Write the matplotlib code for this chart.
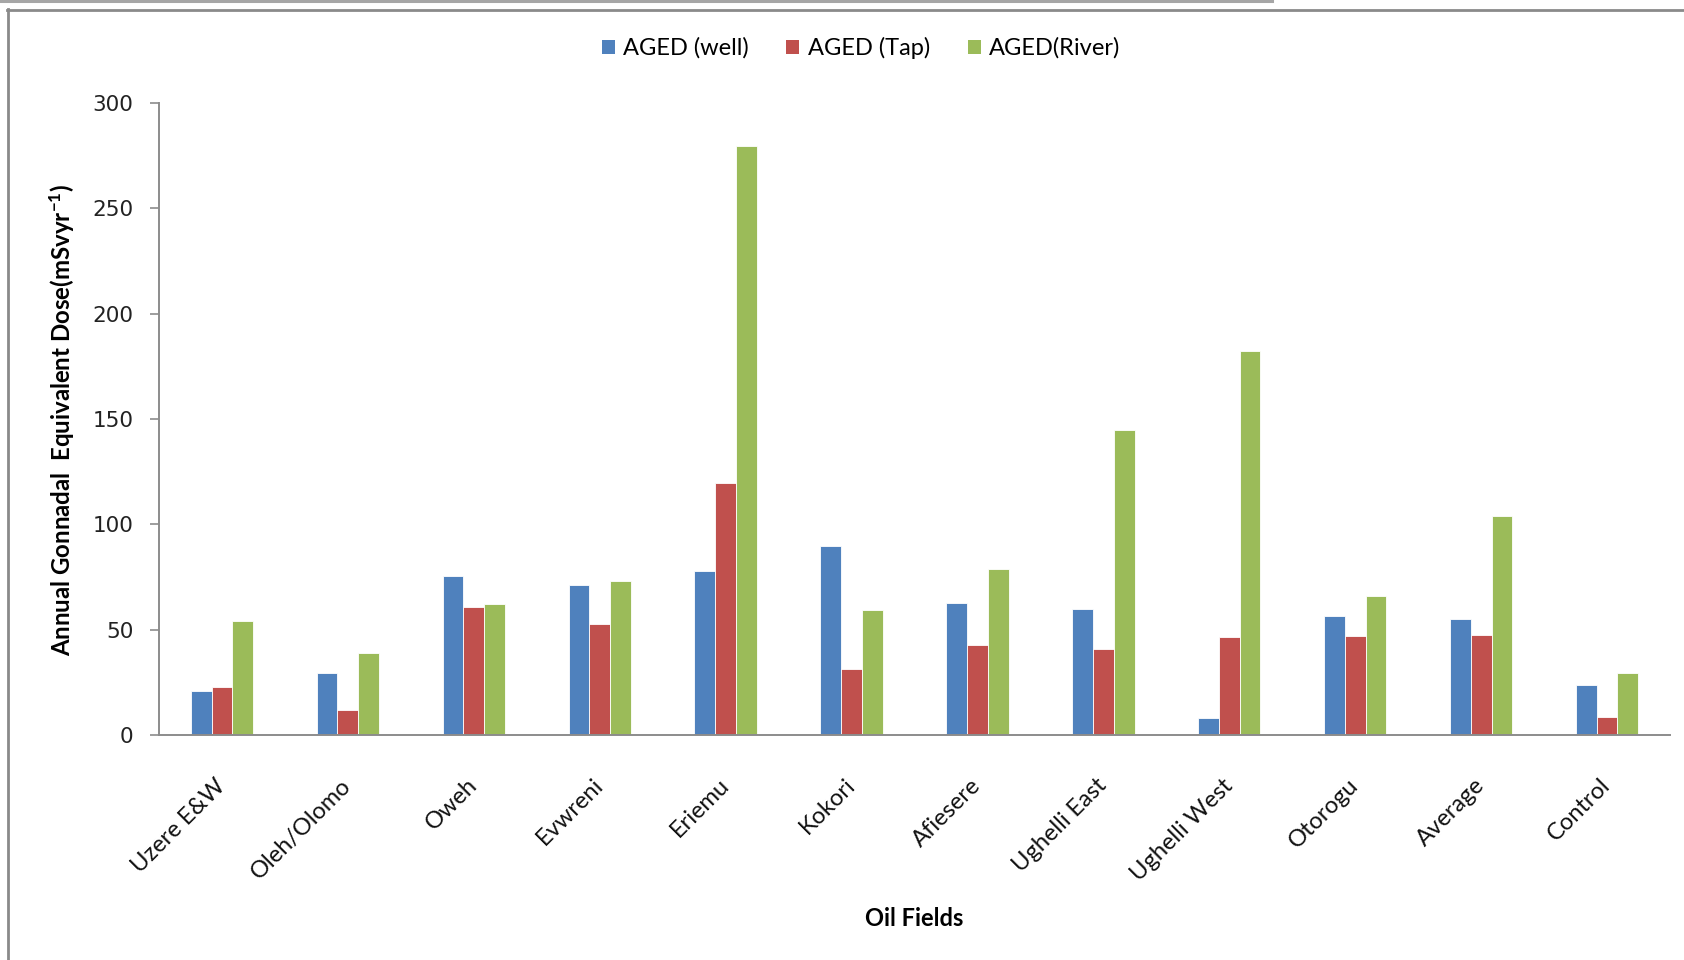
import matplotlib
matplotlib.use("Agg")
import matplotlib.pyplot as plt
from matplotlib.lines import Line2D
from matplotlib.patches import Patch
import numpy as np

categories = ["Uzere E&W", "Oleh/Olomo", "Oweh", "Evwreni", "Eriemu", "Kokori",
              "Afiesere", "Ughelli East", "Ughelli West", "Otorogu", "Average", "Control"]
aged_well = [20.9, 29.5, 75.7, 71.0, 77.8, 89.8, 62.7, 59.7, 8.1, 56.7, 54.9, 23.9]
aged_tap = [22.9, 11.9, 60.6, 52.5, 119.7, 31.4, 42.8, 40.9, 46.4, 47.0, 47.7, 8.7]
aged_river = [54.3, 39.0, 62.4, 72.9, 279.6, 59.2, 78.7, 144.9, 182.1, 65.9, 104.0, 29.3]
series_names = ["AGED (well)", "AGED (Tap)", "AGED(River)"]
series_colors = ["#4F81BD", "#C0504D", "#9BBB59"]
y_ticks = [0, 50, 100, 150, 200, 250, 300]

plt.rcParams["mathtext.fontset"] = "custom"
plt.rcParams["mathtext.rm"] = "Lato:bold"
plt.rcParams["mathtext.default"] = "rm"

W, H, DPI = 1684, 960, 100
fig = plt.figure(figsize=(W / DPI, H / DPI), dpi=DPI)
fig.patch.set_facecolor("white")

ax = fig.add_axes([159 / W, 1 - 735 / H, (1670 - 159) / W, (735 - 103) / H])

x = np.arange(len(categories))
bw = 0.165
for i, (vals, col) in enumerate(zip([aged_well, aged_tap, aged_river], series_colors)):
    ax.bar(x + (i - 1) * bw, vals, width=bw, color=col, edgecolor="white",
           linewidth=0.6, zorder=2)

ax.set_xlim(-0.5, len(categories) - 0.5)
ax.set_ylim(0, 300)
ax.set_yticks(y_ticks)
ax.set_yticklabels([str(v) for v in y_ticks], family="DejaVu Sans", fontsize=15.5,
                   color="#222222")
ax.tick_params(axis="y", direction="out", length=6.5, width=1.2, color="#8c8c8c", pad=12)

ax.set_xticks(x)
ax.set_xticklabels(categories, rotation=45, ha="right", va="center",
                   rotation_mode="anchor", family="Lato", fontsize=17, color="#111111")
ax.tick_params(axis="x", length=0, pad=34)

for side in ["top", "right"]:
    ax.spines[side].set_visible(False)
for side in ["left", "bottom"]:
    ax.spines[side].set_color("#8c8c8c")
    ax.spines[side].set_linewidth(1.4)

ax.set_ylabel(r"Annual Gonnadal  Equivalent Dose(mSvyr$^{-1}$)", family="Lato",
              fontweight="bold", fontsize=17.3)
ax.yaxis.set_label_coords(77 / W, 1 - 420 / H, transform=fig.transFigure)

fig.text(914 / W, 1 - 918 / H, "Oil Fields", family="Lato", fontweight="bold",
         fontsize=17, ha="center", va="center")

handles = [Patch(facecolor=c, edgecolor="none") for c in series_colors]
fig.legend(handles, series_names, loc="center", bbox_to_anchor=(861 / W, 1 - 48 / H),
           ncol=3, frameon=False, prop={"family": "Lato", "size": 17},
           handlelength=0.55, handleheight=0.55, handletextpad=0.35, columnspacing=1.6)

# chart area border lines
fig.add_artist(Line2D([0, 1272 / W], [1 - 1 / H, 1 - 1 / H], transform=fig.transFigure,
                      color="#a6a6a6", linewidth=2.2))
fig.add_artist(Line2D([7 / W, 1], [1 - 9.5 / H, 1 - 9.5 / H], transform=fig.transFigure,
                      color="#8a8a8a", linewidth=2.0))
fig.add_artist(Line2D([8 / W, 8 / W], [0, 1 - 9 / H], transform=fig.transFigure,
                      color="#8a8a8a", linewidth=2.0))

fig.savefig("out.png", dpi=DPI, facecolor="white")
